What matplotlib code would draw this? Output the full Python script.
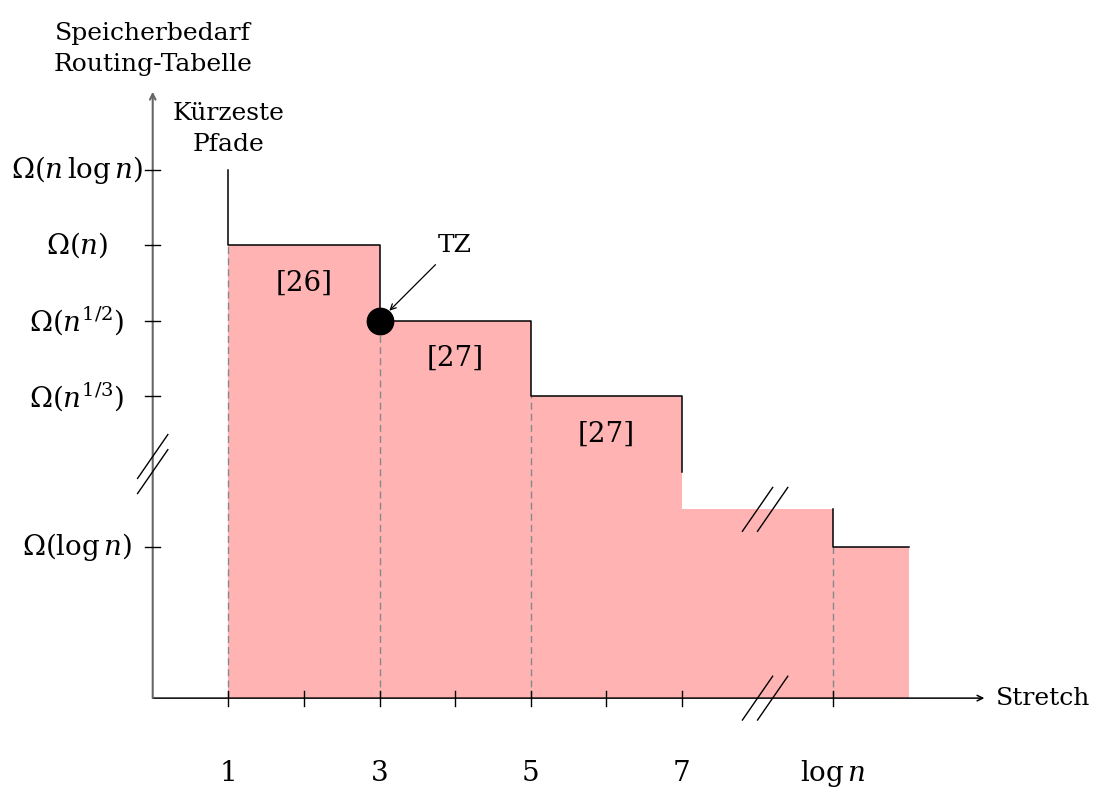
import matplotlib
matplotlib.use("Agg")
import matplotlib.pyplot as plt

plt.rcParams["font.family"] = ["DejaVu Serif"]
plt.rcParams["mathtext.fontset"] = "dejavuserif"

# Stretch intervals and memory levels of the routing schemes
stretch_edges = [1, 3, 5, 7, 9, 10]
memory_levels = [6, 5, 4, 2.5, 2]
shortest_path_top = 7
break_bottom_at_7 = 3
dashed_at = [1, 3, 5, 9]

x_tick_pos = [1, 2, 3, 4, 5, 6, 7, 9]
x_label_pos = [1, 3, 5, 7, 9]
x_labels = ["1", "3", "5", "7", r"$\log n$"]

y_tick_pos = [7, 6, 5, 4, 2]
y_labels = [r"$\Omega(n\,\log n)$", r"$\Omega(n)$", r"$\Omega(n^{1/2})$",
            r"$\Omega(n^{1/3})$", r"$\Omega(\log n)$"]

region_labels = ["[26]", "[27]", "[27]"]
region_pos = [(2, 5.5), (4, 4.5), (6, 3.5)]

tz_point = (3, 5)

fill_color = "#FFB3B3"
fs = 18
fs_math = 20

fig = plt.figure(figsize=(10.97, 7.91), dpi=100)
ax = fig.add_axes([0, 0, 1, 1])
ax.set_xlim(-2.02, 12.49)
ax.set_ylim(-1.23, 9.245)
ax.axis("off")

# shaded region under the step curve
ax.stairs(memory_levels, stretch_edges, fill=True, facecolor=fill_color,
          edgecolor="none", lw=0, zorder=1)

# step outline: from the shortest-path level down to the break at stretch 7
xs = [stretch_edges[0], stretch_edges[0]]
ys = [shortest_path_top, memory_levels[0]]
for i in range(3):
    xs += [stretch_edges[i + 1], stretch_edges[i + 1]]
    ys += [memory_levels[i], memory_levels[i + 1] if i < 2 else break_bottom_at_7]
ax.plot(xs, ys, color="black", lw=1.1, zorder=3)
# step outline after the break
ax.plot([stretch_edges[4], stretch_edges[4], stretch_edges[5]],
        [memory_levels[3], memory_levels[4], memory_levels[4]],
        color="black", lw=1.1, zorder=3)

# dashed helper lines
for xv in dashed_at:
    h = memory_levels[stretch_edges.index(xv)]
    ax.plot([xv, xv], [0, h], color="#888888", lw=1.0, ls=(0, (5, 3)), zorder=2)

# axes with arrows
ax.annotate("", xy=(11.0, 0), xytext=(0, 0),
            arrowprops=dict(arrowstyle="->", color="black", lw=1.1,
                            shrinkA=0, shrinkB=0, mutation_scale=10), zorder=4)
ax.annotate("", xy=(0, 8.03), xytext=(0, 0),
            arrowprops=dict(arrowstyle="->", color="#666666", lw=1.5,
                            shrinkA=0, shrinkB=0, mutation_scale=10), zorder=4)

# ticks
for xv in x_tick_pos:
    ax.plot([xv, xv], [-0.1, 0.1], color="black", lw=1.0, zorder=4)
for yv in y_tick_pos:
    ax.plot([-0.1, 0.1], [yv, yv], color="black", lw=1.0, zorder=4)

for xv, lab in zip(x_label_pos, x_labels):
    ax.text(xv, -1.0, lab, ha="center", va="center", fontsize=fs_math)
for yv, lab in zip(y_tick_pos, y_labels):
    ax.text(-1.0, yv, lab, ha="center", va="center", fontsize=fs_math)

# axis labels
ax.text(0, 8.6, "Speicherbedarf\nRouting-Tabelle", ha="center", va="center",
        fontsize=fs, linespacing=1.45)
ax.text(11.15, 0, "Stretch", ha="left", va="center", fontsize=fs)
ax.text(1, 7.54, "Kürzeste\nPfade", ha="center", va="center",
        fontsize=fs, linespacing=1.45)

for (px, py), lab in zip(region_pos, region_labels):
    ax.text(px, py, lab, ha="center", va="center", fontsize=20)

# trade-off point
ax.plot(*tz_point, marker="o", markersize=19, color="black", zorder=5)
ax.text(4.0, 6.0, "TZ", ha="center", va="center", fontsize=fs)
ax.annotate("", xy=(3.13, 5.13), xytext=(3.74, 5.74),
            arrowprops=dict(arrowstyle="->", color="black", lw=0.9,
                            shrinkA=0, shrinkB=0, mutation_scale=10), zorder=6)

# axis break marks
def break_marks(cx, cy, offsets, horizontal):
    for o in offsets:
        x0, y0 = (cx + o, cy) if horizontal else (cx, cy + o)
        ax.plot([x0 - 0.2, x0 + 0.2], [y0 - 0.29, y0 + 0.29],
                color="black", lw=1.0, zorder=6)

break_marks(0, 3.1, [-0.1, 0.1], horizontal=False)
break_marks(8.1, 0, [-0.1, 0.1], horizontal=True)
break_marks(8.1, 2.5, [-0.1, 0.1], horizontal=True)

fig.savefig("out.png", dpi=100)
